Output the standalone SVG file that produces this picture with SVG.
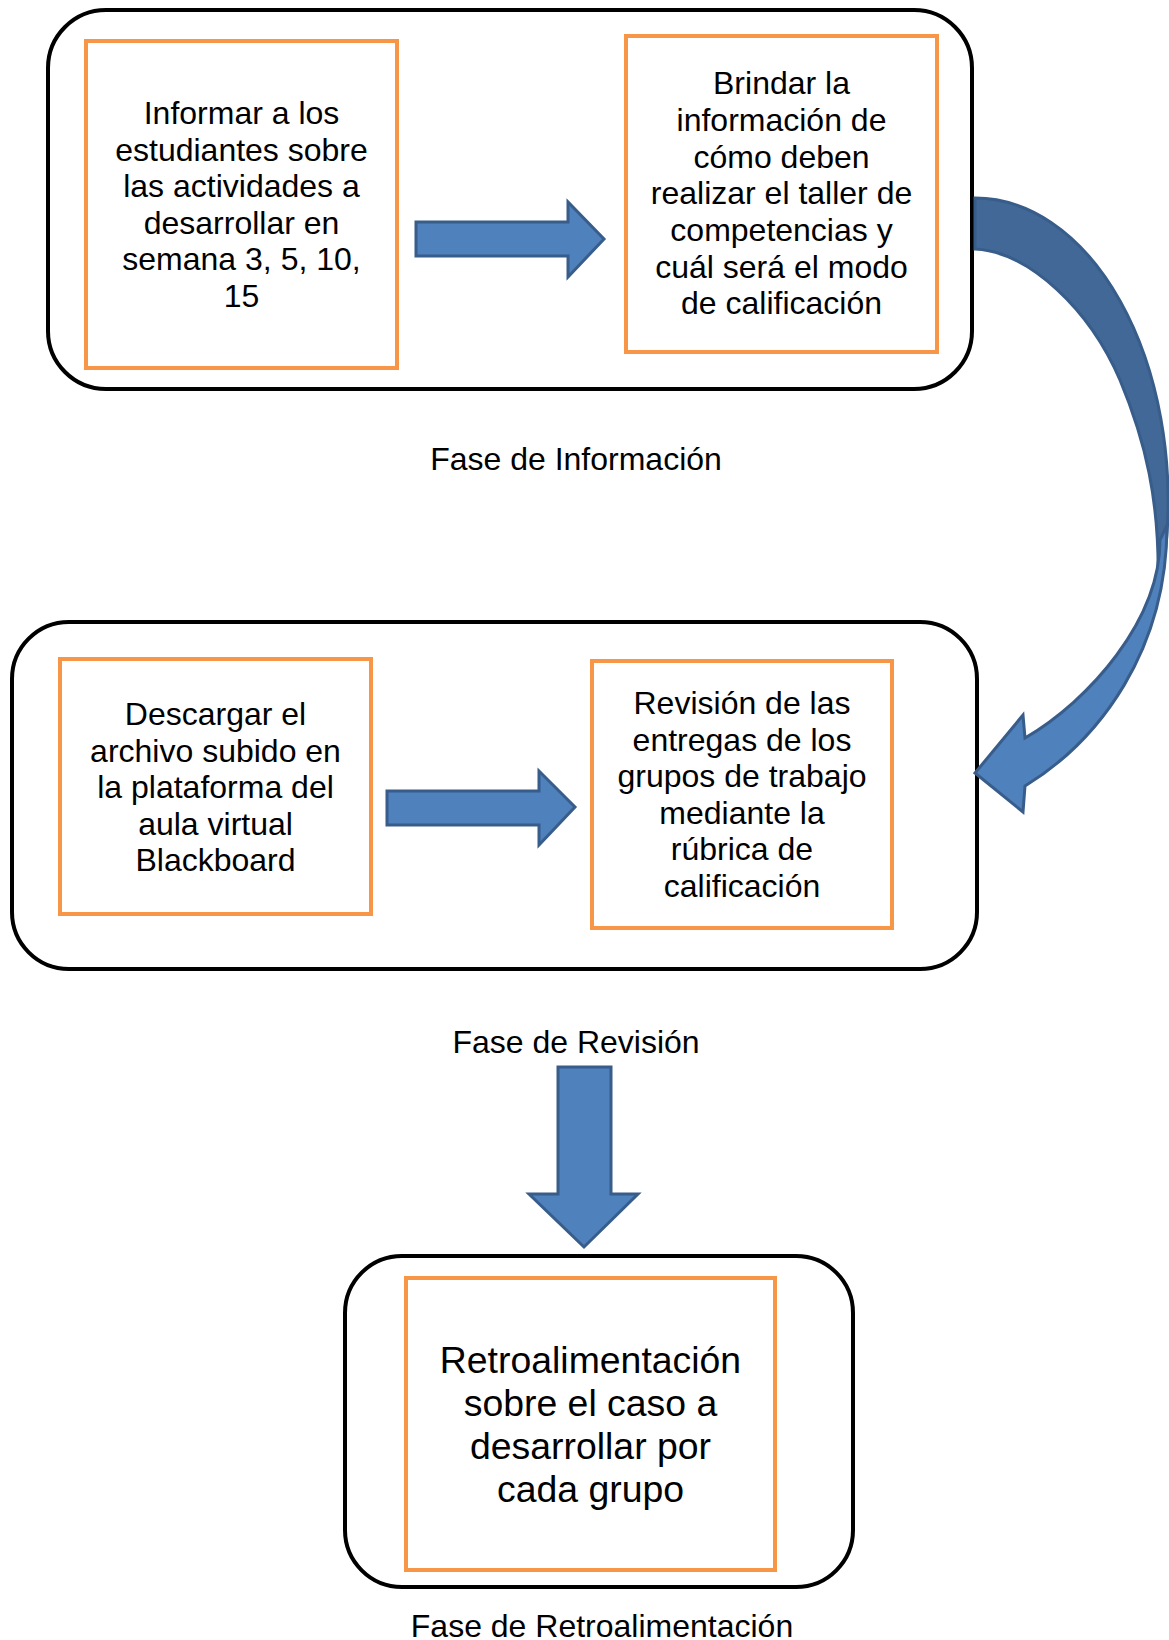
<svg xmlns="http://www.w3.org/2000/svg" width="1169" height="1640" viewBox="0 0 1169 1640">
  <style>
    .phase { fill: #ffffff; stroke: #000000; stroke-width: 4; }
    .step { fill: #ffffff; stroke: #f79646; stroke-width: 4; }
    .txt { font-family: "Liberation Sans", Arial, sans-serif; font-size: 32px; fill: #000000; text-anchor: middle; }
    .big { font-size: 37.4px; }
    .arrow { fill: #4f81bd; stroke: #385d8a; stroke-width: 3; stroke-linejoin: miter; }
    .arrow-back { fill: #416896; stroke: #385d8a; stroke-width: 3; stroke-linejoin: miter; }
  </style>

  <!-- Fase de Información -->
  <g id="fase-informacion">
    <rect class="phase" x="48" y="10" width="924" height="379" rx="58" ry="58"/>
    <text class="txt" x="576" y="470">Fase de Información</text>
  </g>
  <g id="informar">
    <rect class="step" x="86" y="41" width="311" height="327"/>
    <text class="txt"><tspan x="241.5" y="124">Informar a los</tspan><tspan x="241.5" y="160.5">estudiantes sobre</tspan><tspan x="241.5" y="197">las actividades a</tspan><tspan x="241.5" y="233.5">desarrollar en</tspan><tspan x="241.5" y="270">semana 3, 5, 10,</tspan><tspan x="241.5" y="306.5">15</tspan></text>
  </g>
  <g id="brindar">
    <rect class="step" x="626" y="36" width="311" height="316"/>
    <text class="txt"><tspan x="781.5" y="94">Brindar la</tspan><tspan x="781.5" y="131">información de</tspan><tspan x="781.5" y="167.5">cómo deben</tspan><tspan x="781.5" y="204">realizar el taller de</tspan><tspan x="781.5" y="241">competencias y</tspan><tspan x="781.5" y="277.5">cuál será el modo</tspan><tspan x="781.5" y="314">de calificación</tspan></text>
  </g>

  <!-- Fase de Revisión -->
  <g id="fase-revision">
    <rect class="phase" x="12" y="622" width="965" height="347" rx="57" ry="57"/>
    <text class="txt" x="576" y="1053">Fase de Revisión</text>
  </g>
  <g id="descargar">
    <rect class="step" x="60" y="659" width="311" height="255"/>
    <text class="txt"><tspan x="215.5" y="725">Descargar el</tspan><tspan x="215.5" y="761.5">archivo subido en</tspan><tspan x="215.5" y="798">la plataforma del</tspan><tspan x="215.5" y="834.5">aula virtual</tspan><tspan x="215.5" y="871">Blackboard</tspan></text>
  </g>
  <g id="revision">
    <rect class="step" x="592" y="661" width="300" height="267"/>
    <text class="txt"><tspan x="742" y="714">Revisión de las</tspan><tspan x="742" y="750.5">entregas de los</tspan><tspan x="742" y="787">grupos de trabajo</tspan><tspan x="742" y="823.5">mediante la</tspan><tspan x="742" y="860">rúbrica de</tspan><tspan x="742" y="896.5">calificación</tspan></text>
  </g>

  <!-- Fase de Retroalimentación -->
  <g id="fase-retroalimentacion">
    <rect class="phase" x="345" y="1256" width="508" height="331" rx="57" ry="57"/>
    <text class="txt" x="602" y="1637">Fase de Retroalimentación</text>
  </g>
  <g id="retroalimentacion">
    <rect class="step" x="406" y="1278" width="369" height="292"/>
    <text class="txt big"><tspan x="590.5" y="1373">Retroalimentación</tspan><tspan x="590.5" y="1416">sobre el caso a</tspan><tspan x="590.5" y="1459">desarrollar por</tspan><tspan x="590.5" y="1502">cada grupo</tspan></text>
  </g>

  <!-- Connectors -->
  <g id="connectors">
    <path class="arrow" d="M416,222 H568 V202 L604,239 L568,277 V256 H416 Z"/>
    <path class="arrow" d="M387,791 H539 V771 L575,807 L539,845 V825 H387 Z"/>
    <path class="arrow" d="M558,1067 H611 V1194 H638 L584,1247 L529,1194 H558 Z"/>
    <!-- curved arrow: darker back band from the tail, front band ending in the head -->
    <path class="arrow-back" d="M975,198 A193,303 0 0 1 1166.5,540 L1158,585 C1160,500 1145,440 1120,380 C1090,310 1030,252 975,249 Z"/>
    <path class="arrow" d="M1167,525 C1167,650 1100,740 1025,786 L1023,812 L975,773 L1023,715 L1025,738 C1090,700 1160,620 1160,540 Z"/>
  </g>
</svg>
